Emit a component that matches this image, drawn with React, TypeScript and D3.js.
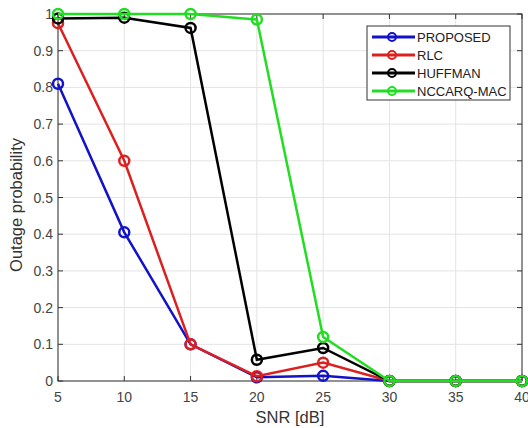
import React from "react";
import * as d3 from "d3";

const snr = [5, 10, 15, 20, 25, 30, 35, 40];
const proposed = [0.81, 0.405, 0.1, 0.01, 0.014, 0, 0, 0];
const rlc = [0.975, 0.6, 0.1, 0.013, 0.05, 0, 0, 0];
const huffman = [0.988, 0.99, 0.962, 0.058, 0.09, 0, 0, 0];
const nccarq = [1, 1, 1, 0.985, 0.12, 0, 0, 0];
const seriesNames = ["PROPOSED", "RLC", "HUFFMAN", "NCCARQ-MAC"];
const seriesColors = ["#1212c8", "#dc2020", "#000000", "#22dd22"];
const xTicks = [5, 10, 15, 20, 25, 30, 35, 40];
const yTicks = [0, 0.1, 0.2, 0.3, 0.4, 0.5, 0.6, 0.7, 0.8, 0.9, 1];

export default function App() {
  const W = 528, H = 428;
  const L = 58, R = 522, T = 14, B = 381;
  const x = d3.scaleLinear().domain([5, 40]).range([L, R]);
  const y = d3.scaleLinear().domain([0, 1]).range([B, T]);
  const all = [proposed, rlc, huffman, nccarq];
  const line = d3.line<number>().x((_, i) => x(snr[i])).y((d) => y(d));
  const font = "'Liberation Sans', Arial, sans-serif";
  const legX = 367, legY = 26, legW = 143, legH = 74;
  return (
    <svg width={W} height={H} style={{ position: "absolute", left: 0, top: 0, background: "#fff" }} fontFamily={font}>
      <rect x={0} y={0} width={W} height={H} fill="#fff" />
      {xTicks.map((t) => (
        <line key={"gx" + t} x1={x(t)} x2={x(t)} y1={T} y2={B} stroke="#e3e3e3" strokeWidth={1} />
      ))}
      {yTicks.map((t) => (
        <line key={"gy" + t} x1={L} x2={R} y1={y(t)} y2={y(t)} stroke="#e3e3e3" strokeWidth={1} />
      ))}
      {xTicks.map((t) => (
        <g key={"tx" + t}>
          <line x1={x(t)} x2={x(t)} y1={B} y2={B - 5} stroke="#333" />
          <line x1={x(t)} x2={x(t)} y1={T} y2={T + 5} stroke="#333" />
          <text x={x(t)} y={B + 21} fontSize={14} fill="#444" textAnchor="middle">{t}</text>
        </g>
      ))}
      {yTicks.map((t) => (
        <g key={"ty" + t}>
          <line x1={L} x2={L + 5} y1={y(t)} y2={y(t)} stroke="#333" />
          <line x1={R} x2={R - 5} y1={y(t)} y2={y(t)} stroke="#333" />
          <text x={L - 5} y={y(t) + 5} fontSize={14} fill="#444" textAnchor="end">{t}</text>
        </g>
      ))}
      <rect x={L} y={T} width={R - L} height={B - T} fill="none" stroke="#333" strokeWidth={1} />
      {all.map((s, k) => (
        <g key={"s" + k}>
          <path d={line(s) || ""} fill="none" stroke={seriesColors[k]} strokeWidth={2.5} />
          {s.map((v, i) => (
            <circle key={i} cx={x(snr[i])} cy={y(v)} r={5} fill="none" stroke={seriesColors[k]} strokeWidth={2.5} />
          ))}
        </g>
      ))}
      <text x={290} y={423} fontSize={16.5} fill="#333" textAnchor="middle">SNR [dB]</text>
      <text transform={`translate(22,${205}) rotate(-90)`} fontSize={16.5} fill="#333" textAnchor="middle">Outage probability</text>
      <rect x={legX} y={legY} width={legW} height={legH} fill="#fff" stroke="#333" strokeWidth={1} />
      {seriesNames.map((n, k) => {
        const yy = legY + 11 + k * 18;
        return (
          <g key={n}>
            <line x1={legX + 5} x2={legX + 48} y1={yy} y2={yy} stroke={seriesColors[k]} strokeWidth={3} />
            <circle cx={legX + 25} cy={yy} r={4} fill="none" stroke={seriesColors[k]} strokeWidth={2} />
            <text x={legX + 50} y={yy + 5} fontSize={13} fill="#222">{n}</text>
          </g>
        );
      })}
    </svg>
  );
}
